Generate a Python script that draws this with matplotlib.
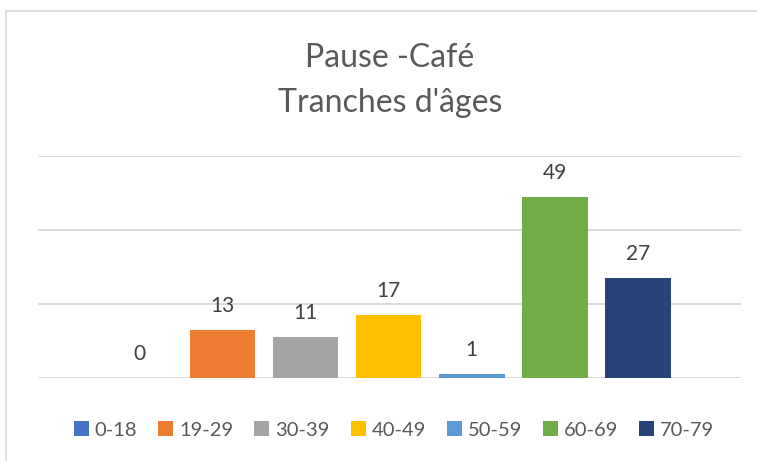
import matplotlib
matplotlib.use("Agg")
import matplotlib.pyplot as plt
from matplotlib.patches import Rectangle

# donnees
tranches = ["0-18", "19-29", "30-39", "40-49", "50-59", "60-69", "70-79"]
effectifs = [0, 13, 11, 17, 1, 49, 27]
couleurs = ["#4472C4", "#ED7D31", "#A5A5A5", "#FFC000", "#5B9BD5", "#70AD47", "#264478"]

plt.rcParams["font.family"] = ["Lato", "DejaVu Sans"]

W, H = 757, 461
fig = plt.figure(figsize=(W/100, H/100), dpi=100)
# cadre du graphique (coupe a droite et en bas)
fig.patches.append(Rectangle((6/W, -0.1), 1.2, 1 - 11/H + 0.1, transform=fig.transFigure,
                             fill=False, edgecolor="#D9D9D9", lw=1.2))

ax = fig.add_axes([38/W, (H-378)/H, (741-38)/W, (378-156)/H])
for i, (t, v, c) in enumerate(zip(tranches, effectifs, couleurs)):
    ax.bar(i, v, width=0.79, color=c, label=t, zorder=2)
    ax.annotate(str(v), (i, v), xytext=(0, 10), textcoords="offset points",
                ha="center", va="bottom", fontsize=15, color="#404040")

ax.set_xlim(-1.22, 7.24)
ax.set_ylim(0, 60)
ax.set_yticks([0, 20, 40, 60])
ax.grid(axis="y", color="#D9D9D9", lw=1.3, zorder=0)
ax.tick_params(left=False, bottom=False, labelleft=False, labelbottom=False)
for s in ax.spines.values():
    s.set_visible(False)

fig.text(390/W, 1 - 67/H, "Pause -Café", ha="center", va="baseline", fontsize=23, color="#595959")
fig.text(390/W, 1 - 112/H, "Tranches d'âges", ha="center", va="baseline", fontsize=23, color="#595959")

fig.legend(loc="center", bbox_to_anchor=(394/W, 1 - 430/H), ncol=7, frameon=False,
           fontsize=14.5, labelcolor="#595959", handlelength=0.75, handleheight=0.75,
           handletextpad=0.28, columnspacing=1.05)

fig.savefig("out.png", dpi=100)
